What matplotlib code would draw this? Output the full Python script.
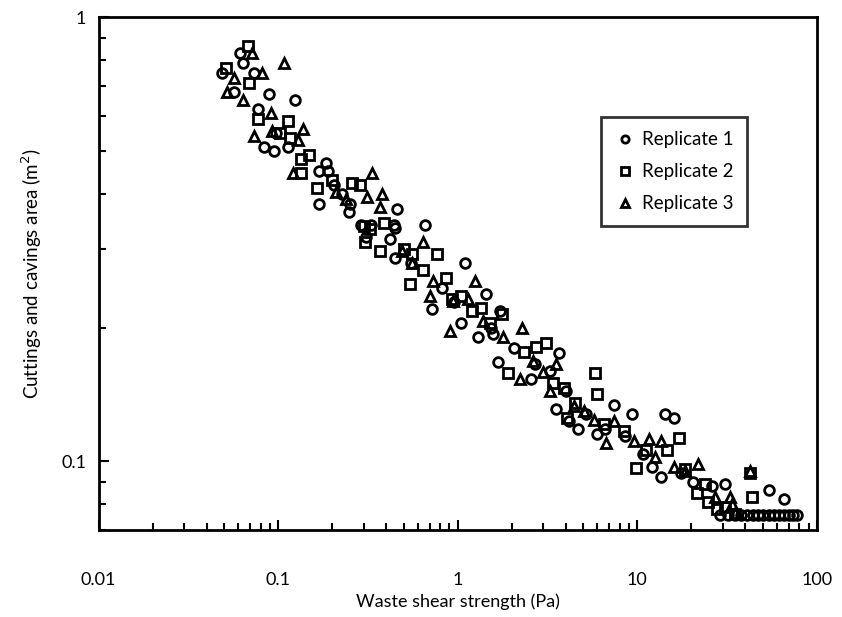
import matplotlib
matplotlib.use('Agg')
import matplotlib.pyplot as plt
from matplotlib.ticker import FixedLocator, FuncFormatter, LogLocator, NullFormatter

plt.rcParams['font.family'] = ['Lato', 'DejaVu Sans']

# Replicate 1 (circles)
rep1_x = [0.049, 0.057, 0.061, 0.064, 0.073, 0.077, 0.083, 0.089, 0.095, 0.098,
          0.114, 0.124, 0.168, 0.17, 0.186, 0.19, 0.205, 0.226, 0.247, 0.25,
          0.29, 0.31, 0.33, 0.42, 0.44, 0.45, 0.45, 0.46, 0.55, 0.66,
          0.72, 0.82, 0.95, 1.04, 1.1, 1.3, 1.44, 1.53, 1.57, 1.68,
          1.72, 2.05, 2.57, 2.7, 3.28, 3.55, 3.65, 4.0, 4.15, 4.7,
          5.2, 5.97, 6.6, 7.4, 8.6, 9.3, 10.8, 12.1, 13.6, 14.2,
          16.1, 17.5, 20.5, 26, 30.8, 54, 66,
          29, 32, 35, 38, 41, 44, 47, 50, 54, 58, 62, 66, 70, 74, 78]
rep1_y = [0.75, 0.68, 0.83, 0.79, 0.75, 0.62, 0.51, 0.67, 0.50, 0.55,
          0.51, 0.65, 0.38, 0.45, 0.47, 0.45, 0.42, 0.40, 0.365, 0.38,
          0.34, 0.32, 0.34, 0.316, 0.34, 0.335, 0.287, 0.37, 0.28, 0.34,
          0.22, 0.245, 0.228, 0.205, 0.28, 0.19, 0.238, 0.20, 0.193, 0.167,
          0.218, 0.18, 0.153, 0.166, 0.16, 0.131, 0.175, 0.144, 0.123, 0.118,
          0.128, 0.115, 0.118, 0.134, 0.114, 0.128, 0.104, 0.097, 0.092, 0.128,
          0.125, 0.094, 0.09, 0.088, 0.089, 0.086, 0.082,
          0.0755, 0.0755, 0.0755, 0.0755, 0.0755, 0.0755, 0.0755, 0.0755, 0.0755, 0.0755,
          0.0755, 0.0755, 0.0755, 0.0755, 0.0755]

# Replicate 2 (squares)
rep2_x = [0.051, 0.068, 0.069, 0.077, 0.102, 0.114, 0.116, 0.135, 0.135, 0.148,
          0.164, 0.20, 0.257, 0.285, 0.30, 0.304, 0.324, 0.37, 0.39, 0.50,
          0.54, 0.56, 0.64, 0.77, 0.86, 0.93, 1.04, 1.21, 1.35, 1.51,
          1.77, 1.91, 2.35, 2.74, 3.12, 3.4, 3.89, 4.05, 4.5, 5.8,
          5.97, 6.5, 8.4, 9.9, 11.2, 14.6, 17.2, 18.5, 21.5, 23.8,
          24.7, 28, 30.8, 35, 42.5, 43.6]
rep2_y = [0.77, 0.86, 0.71, 0.59, 0.55, 0.585, 0.536, 0.48, 0.447, 0.49,
          0.413, 0.43, 0.423, 0.418, 0.339, 0.311, 0.333, 0.298, 0.344, 0.30,
          0.251, 0.293, 0.27, 0.293, 0.259, 0.232, 0.236, 0.218, 0.221, 0.205,
          0.215, 0.158, 0.176, 0.181, 0.185, 0.15, 0.146, 0.125, 0.135, 0.158,
          0.142, 0.121, 0.117, 0.0965, 0.106, 0.106, 0.113, 0.096, 0.085, 0.089,
          0.081, 0.078, 0.079, 0.076, 0.094, 0.083]

# Replicate 3 (triangles)
rep3_x = [0.052, 0.057, 0.064, 0.072, 0.073, 0.081, 0.091, 0.092, 0.108, 0.121,
          0.129, 0.137, 0.21, 0.24, 0.312, 0.333, 0.37, 0.379, 0.49, 0.56,
          0.64, 0.70, 0.73, 0.91, 0.94, 1.14, 1.25, 1.38, 1.8, 2.23,
          2.29, 2.64, 3.0, 3.28, 3.55, 4.43, 5.04, 5.73, 6.7, 7.4,
          9.6, 11.7, 12.5, 13.6, 16.1, 18.4, 21.7, 27.1, 32.9, 33.7,
          35.1, 42.5]
rep3_y = [0.68, 0.73, 0.65, 0.83, 0.54, 0.75, 0.61, 0.555, 0.79, 0.445,
          0.53, 0.56, 0.405, 0.39, 0.393, 0.447, 0.373, 0.40, 0.297, 0.28,
          0.311, 0.236, 0.255, 0.196, 0.23, 0.232, 0.255, 0.207, 0.19, 0.153,
          0.20, 0.168, 0.159, 0.144, 0.166, 0.133, 0.130, 0.124, 0.11, 0.123,
          0.111, 0.112, 0.102, 0.111, 0.097, 0.095, 0.0985, 0.083, 0.083, 0.080,
          0.0765, 0.095]

x_ticks = [0.01, 0.1, 1, 10, 100]
y_ticks = [0.1, 1]

fig = plt.figure(figsize=(8.42, 6.17), dpi=100)
ax = fig.add_axes([0.117, 0.141, 0.853, 0.831])

style = dict(linestyle='none', markerfacecolor='none', markeredgecolor='black',
             markeredgewidth=2, markersize=7)
ax.plot(rep1_x, rep1_y, marker='o', label='Replicate 1', **style)
ax.plot(rep2_x, rep2_y, marker='s', label='Replicate 2', **style)
ax.plot(rep3_x, rep3_y, marker='^', label='Replicate 3', **style)

ax.set_xscale('log')
ax.set_yscale('log')
ax.set_xlim(0.01, 100)
ax.set_ylim(0.07, 1)

ax.xaxis.set_major_locator(FixedLocator(x_ticks))
ax.yaxis.set_major_locator(FixedLocator(y_ticks))
ax.xaxis.set_minor_locator(LogLocator(base=10, subs=range(2, 10)))
ax.yaxis.set_minor_locator(LogLocator(base=10, subs=range(2, 10)))
fmt = FuncFormatter(lambda v, p: '%g' % v)
ax.xaxis.set_major_formatter(fmt)
ax.yaxis.set_major_formatter(fmt)
ax.xaxis.set_minor_formatter(NullFormatter())
ax.yaxis.set_minor_formatter(NullFormatter())

ax.tick_params(which='both', direction='in', top=False, right=False, width=1.5)
ax.tick_params(which='major', length=7, labelsize=13)
ax.tick_params(axis='x', which='major', pad=30)
ax.tick_params(axis='y', which='major', pad=9)
ax.tick_params(which='minor', length=5)
for s in ax.spines.values():
    s.set_linewidth(2)

ax.set_xlabel('Waste shear strength (Pa)', fontsize=13, labelpad=4)
ax.set_ylabel('Cuttings and cavings area (m$^2$)', fontsize=13.5, labelpad=12)

leg = ax.legend(loc='upper left', bbox_to_anchor=(0.70, 0.805), borderaxespad=0,
                fontsize=13.5, frameon=True, fancybox=False, edgecolor='black',
                handletextpad=0.4, handlelength=1.0, borderpad=0.75,
                labelspacing=0.8, markerscale=0.75)
leg.get_frame().set_linewidth(2)

fig.savefig('out.png', dpi=100)
